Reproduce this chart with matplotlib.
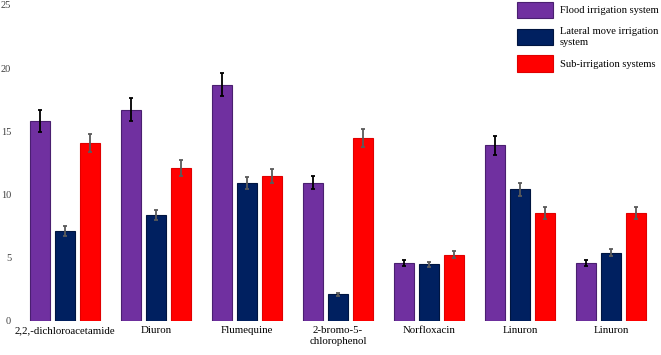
import numpy as np
import matplotlib.pyplot as plt

plt.rcParams['font.family'] = ['Liberation Serif', 'DejaVu Serif']

# data
compounds = ['2,2,-dichloroacetamide', 'Diuron', 'Flumequine', '2-bromo-5-\nchlorophenol',
             'Norfloxacin', 'Linuron', 'Linuron']
series = ['Flood irrigation system', 'Lateral move irrigation\nsystem', 'Sub-irrigation systems']
flood = [15.8, 16.7, 18.7, 10.95, 4.6, 13.9, 4.6]
lateral = [7.1, 8.35, 10.9, 2.1, 4.5, 10.4, 5.4]
sub = [14.1, 12.1, 11.5, 14.5, 5.25, 8.55, 8.55]
flood_err = [0.85, 0.9, 0.9, 0.55, 0.25, 0.75, 0.25]
lateral_err = [0.4, 0.4, 0.5, 0.12, 0.2, 0.55, 0.3]
sub_err = [0.7, 0.6, 0.55, 0.7, 0.3, 0.45, 0.45]
yticks = [0, 5, 10, 15, 20, 25]

colors = ['#7030A0', '#002060', '#FF0000']
err_colors = ['black', '#5a5a5a', '#5a5a5a']
edges = ['#4a1f70', '#001540', '#e00000']

fig = plt.figure(figsize=(6.61, 3.55), dpi=100)
ax = fig.add_axes([0.038, 0.096, 0.962, 0.89])

x = np.arange(len(compounds))
w = 0.22
step = 0.275
for k, (vals, errs) in enumerate(zip([flood, lateral, sub], [flood_err, lateral_err, sub_err])):
    ax.bar(x + (k - 1) * step, vals, w, color=colors[k], edgecolor=edges[k], linewidth=0.8,
           label=series[k], zorder=2)
    ax.errorbar(x + (k - 1) * step, vals, yerr=errs, fmt='none', ecolor=err_colors[k],
                elinewidth=1.3, capsize=1.5, capthick=1.3, zorder=3)

ax.set_ylim(0, 25)
ax.set_xlim(-0.44, 6.55)
ax.set_yticks(yticks)
ax.set_yticklabels([str(t) for t in yticks], fontsize=7.5, color='#404040')
ax.set_xticks(x)
ax.set_xticklabels(compounds, fontsize=7.8, linespacing=1.25)
ax.tick_params(axis='both', length=0)
ax.tick_params(axis='x', pad=4)
ax.tick_params(axis='y', pad=10)
for s in ax.spines.values():
    s.set_visible(False)

leg = ax.legend(loc='upper left', bbox_to_anchor=(0.764, 1.03), frameon=False, fontsize=7.6,
                handlelength=3.4, handleheight=2.0, labelspacing=0.8, handletextpad=0.65,
                borderaxespad=0.2)
for t in leg.get_texts():
    t.set_linespacing(1.35)

fig.savefig('out.png', dpi=100)
